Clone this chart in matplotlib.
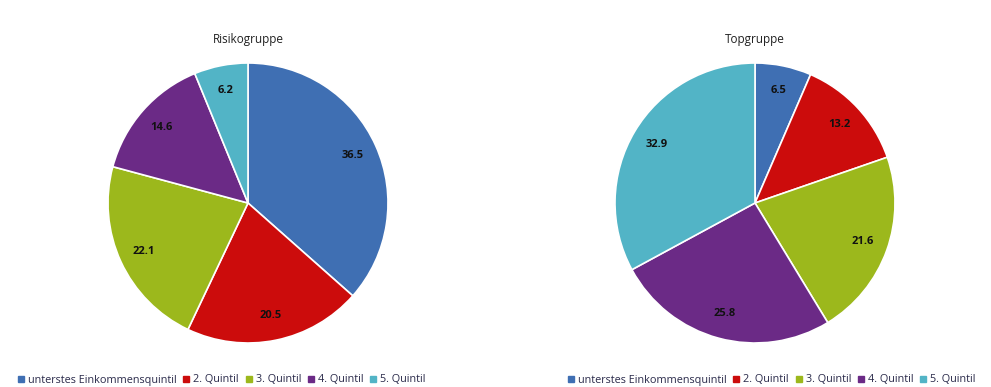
import matplotlib.pyplot as plt
from matplotlib.lines import Line2D

plt.rcParams['font.family'] = ['Open Sans', 'DejaVu Sans']

categories = ['unterstes Einkommensquintil', '2. Quintil', '3. Quintil', '4. Quintil', '5. Quintil']
risiko = [36.5, 20.5, 22.1, 14.6, 6.2]
top = [6.5, 13.2, 21.6, 25.8, 32.9]
titles = ['Risikogruppe', 'Topgruppe']
colors = ['#3f6fb3', '#cc0c0c', '#9cb81c', '#6b2a86', '#52b4c6']

fig = plt.figure(figsize=(9.91, 3.87), dpi=100)

positions = [[108 / 991, 44 / 387, 280 / 991, 280 / 387],
             [615 / 991, 44 / 387, 280 / 991, 280 / 387]]
legend_x = [12 / 991, 562 / 991]

for pos, vals, title, lx in zip(positions, [risiko, top], titles, legend_x):
    ax = fig.add_axes(pos)
    ax.pie(vals, colors=colors, startangle=90, counterclock=False,
           labels=[f'{v:.1f}' for v in vals], labeldistance=0.82,
           wedgeprops=dict(edgecolor='white', linewidth=1.2),
           textprops=dict(fontsize=8, fontweight='bold', color='#111111',
                          ha='center', va='center'))
    ax.set_aspect('equal')
    ax.set_xlim(-1.0, 1.0)
    ax.set_ylim(-1.0, 1.0)
    ax.text(0, 1.17, title, ha='center', va='center', fontsize=8.5,
            fontweight='medium', color='#222222')

    handles = [Line2D([], [], marker='s', linestyle='', color=c, markersize=4) for c in colors]
    fig.legend(handles, categories, loc='center left', bbox_to_anchor=(lx, 7 / 387),
               ncol=5, frameon=False, fontsize=7.8, handlelength=0.6,
               handletextpad=0.35, columnspacing=0.6, borderpad=0,
               labelcolor='#2a2a4a')

plt.savefig('out.png', dpi=100)
